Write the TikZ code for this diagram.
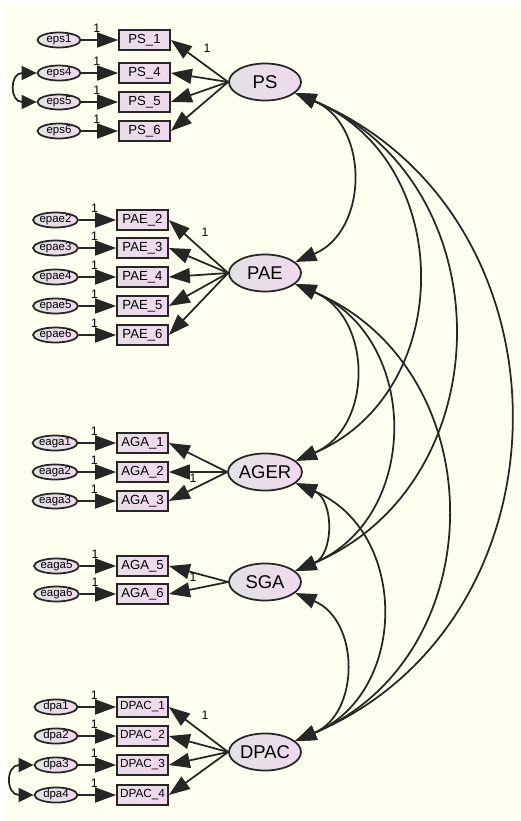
\documentclass[tikz,border=0pt]{standalone}
\usepackage{fontspec}
\setmainfont{Liberation Sans}
\usepackage{tikz}
\usetikzlibrary{shapes.geometric, arrows.meta}
\usepackage{xcolor}
\definecolor{fundo}{HTML}{FFFFF0}
\definecolor{rosa}{HTML}{F0D8EE}
\definecolor{cinza}{HTML}{E2E2E2}
\definecolor{borda}{HTML}{262626}

\begin{document}
\begin{tikzpicture}[
    latente/.style={ellipse, draw=borda, line width=1pt, left color=cinza, right color=rosa,
        minimum width=1.44cm, minimum height=0.74cm, inner sep=0pt, font=\fontsize{10.5}{12}\selectfont},
    obs/.style={rectangle, draw=borda, line width=1pt, left color=cinza!50!rosa, right color=rosa,
        minimum width=1.02cm, minimum height=0.4cm, inner sep=0pt, font=\fontsize{7.5}{9}\selectfont},
    obsd/.style={obs, font=\fontsize{6.7}{8}\selectfont},
    erro/.style={ellipse, draw=borda, line width=1pt, left color=cinza, right color=rosa,
        minimum width=0.86cm, minimum height=0.3cm, inner sep=0pt, font=\fontsize{6.5}{7}\selectfont},
    seta/.style={-{Triangle[length=4.2mm,width=3mm]}, line width=1pt, draw=borda},
    dupla/.style={{Triangle[length=4.2mm,width=3mm]}-{Triangle[length=4.2mm,width=3mm]}, line width=1pt, draw=borda},
    duplap/.style={{Triangle[length=3mm,width=2.8mm]}-{Triangle[length=3mm,width=2.8mm]}, line width=1pt, draw=borda},
    arco/.style={bend left=67, looseness=1.22},
    um/.style={font=\fontsize{7}{8}\selectfont, inner sep=1pt},
    umerro/.style={um, pos=0.42, above=3pt}
]
    % Fundo
    \useasboundingbox (0,0) rectangle (10.42,-16.42);
    \fill[fundo] (0.1,-0.1) rectangle (10.42,-16.42);
    % Variaveis latentes
    \node[latente] (PS) at (5.3,-1.64) {PS};
    \node[latente] (PAE) at (5.3,-5.46) {PAE};
    \node[latente] (AGER) at (5.3,-9.44) {AGER};
    \node[latente] (SGA) at (5.3,-11.64) {SGA};
    \node[latente] (DPAC) at (5.3,-15.04) {DPAC};
    % Indicadores de PS
    \node[obs] (PS1) at (2.89,-0.8) {PS\_1};
    \node[obs] (PS4) at (2.89,-1.46) {PS\_4};
    \node[obs] (PS5) at (2.89,-2.04) {PS\_5};
    \node[obs] (PS6) at (2.89,-2.62) {PS\_6};
    \node[erro] (eps1) at (1.18,-0.8) {eps1};
    \node[erro] (eps4) at (1.18,-1.46) {eps4};
    \node[erro] (eps5) at (1.18,-2.04) {eps5};
    \node[erro] (eps6) at (1.18,-2.62) {eps6};
    % Indicadores de PAE
    \node[obs] (PAE2) at (2.85,-4.4) {PAE\_2};
    \node[obs] (PAE3) at (2.85,-4.96) {PAE\_3};
    \node[obs] (PAE4) at (2.85,-5.54) {PAE\_4};
    \node[obs] (PAE5) at (2.85,-6.12) {PAE\_5};
    \node[obs] (PAE6) at (2.85,-6.7) {PAE\_6};
    \node[erro] (epae2) at (1.11,-4.4) {epae2};
    \node[erro] (epae3) at (1.11,-4.96) {epae3};
    \node[erro] (epae4) at (1.11,-5.54) {epae4};
    \node[erro] (epae5) at (1.11,-6.12) {epae5};
    \node[erro] (epae6) at (1.11,-6.7) {epae6};
    % Indicadores de AGER e SGA
    \node[obs] (AGA1) at (2.85,-8.86) {AGA\_1};
    \node[obs] (AGA2) at (2.85,-9.44) {AGA\_2};
    \node[obs] (AGA3) at (2.85,-10.02) {AGA\_3};
    \node[obs] (AGA5) at (2.85,-11.32) {AGA\_5};
    \node[obs] (AGA6) at (2.85,-11.88) {AGA\_6};
    \node[erro] (eaga1) at (1.1,-8.86) {eaga1};
    \node[erro] (eaga2) at (1.1,-9.44) {eaga2};
    \node[erro] (eaga3) at (1.1,-10.02) {eaga3};
    \node[erro] (eaga5) at (1.13,-11.32) {eaga5};
    \node[erro] (eaga6) at (1.13,-11.88) {eaga6};
    % Indicadores de DPAC
    \node[obsd] (DPAC1) at (2.85,-14.14) {DPAC\_1};
    \node[obsd] (DPAC2) at (2.85,-14.72) {DPAC\_2};
    \node[obsd] (DPAC3) at (2.85,-15.3) {DPAC\_3};
    \node[obsd] (DPAC4) at (2.85,-15.9) {DPAC\_4};
    \node[erro] (dpa1) at (1.12,-14.14) {dpa1};
    \node[erro] (dpa2) at (1.12,-14.72) {dpa2};
    \node[erro] (dpa3) at (1.12,-15.3) {dpa3};
    \node[erro] (dpa4) at (1.12,-15.9) {dpa4};
    % Erros -> indicadores
    \draw[seta] (eps1) -- node[umerro] (u1) {1} (PS1);
    \draw[seta] (eps4) -- node[umerro] (u4) {1} (PS4);
    \draw[seta] (eps5) -- node[umerro] (u5) {1} (PS5);
    \draw[seta] (eps6) -- node[umerro] (u6) {1} (PS6);
    \draw[seta] (epae2) -- node[umerro] (v2) {1} (PAE2);
    \draw[seta] (epae3) -- node[umerro] (v3) {1} (PAE3);
    \draw[seta] (epae4) -- node[umerro] (v4) {1} (PAE4);
    \draw[seta] (epae5) -- node[umerro] (v5) {1} (PAE5);
    \draw[seta] (epae6) -- node[umerro] (v6) {1} (PAE6);
    \draw[seta] (eaga1) -- node[umerro] (w1) {1} (AGA1);
    \draw[seta] (eaga2) -- node[umerro] (w2) {1} (AGA2);
    \draw[seta] (eaga3) -- node[umerro] (w3) {1} (AGA3);
    \draw[seta] (eaga5) -- node[umerro] (w5) {1} (AGA5);
    \draw[seta] (eaga6) -- node[umerro] (w6) {1} (AGA6);
    \draw[seta] (dpa1) -- node[umerro] (z1) {1} (DPAC1);
    \draw[seta] (dpa2) -- node[umerro] (z2) {1} (DPAC2);
    \draw[seta] (dpa3) -- node[umerro] (z3) {1} (DPAC3);
    \draw[seta] (dpa4) -- node[umerro] (z4) {1} (DPAC4);
    % Cargas fatoriais
    \draw[seta] (PS.west) -- (PS1.east);
    \draw[seta] (PS.west) -- (PS4.east);
    \draw[seta] (PS.west) -- (PS5.east);
    \draw[seta] (PS.west) -- (PS6.east);
    \draw[seta] (PAE.west) -- (PAE2.east);
    \draw[seta] (PAE.west) -- (PAE3.east);
    \draw[seta] (PAE.west) -- (PAE4.east);
    \draw[seta] (PAE.west) -- (PAE5.east);
    \draw[seta] (PAE.west) -- (PAE6.east);
    \draw[seta] (AGER.west) -- (AGA1.east);
    \draw[seta] (AGER.west) -- (AGA2.east);
    \draw[seta] (AGER.west) -- (AGA3.east);
    \draw[seta] (SGA.west) -- (AGA5.east);
    \draw[seta] (SGA.west) -- (AGA6.east);
    \draw[seta] (DPAC.west) -- (DPAC1.east);
    \draw[seta] (DPAC.west) -- (DPAC2.east);
    \draw[seta] (DPAC.west) -- (DPAC3.east);
    \draw[seta] (DPAC.west) -- (DPAC4.east);
    \node[um] (cPS) at (4.14,-0.96) {1};
    \node[um] (cPAE) at (4.1,-4.64) {1};
    \node[um] (cAGER) at (3.86,-9.56) {1};
    \node[um] (cSGA) at (3.86,-11.54) {1};
    \node[um] (cDPAC) at (4.1,-14.3) {1};
    % Covariancias entre erros
    \draw[duplap] (eps4.west) to[out=180, in=180, looseness=2.4] (eps5.west);
    \draw[duplap] (dpa3.west) to[out=180, in=180, looseness=2.4] (dpa4.west);
    % Covariancias entre latentes
    \draw[dupla] (PS.-20) to[arco] (PAE.20);
    \draw[dupla] (PS.-20) to[arco] (AGER.20);
    \draw[dupla] (PS.-20) to[arco] (SGA.20);
    \draw[dupla] (PS.-20) to[arco] (DPAC.20);
    \draw[dupla] (PAE.-20) to[arco] (AGER.20);
    \draw[dupla] (PAE.-20) to[arco] (SGA.20);
    \draw[dupla] (PAE.-20) to[arco] (DPAC.20);
    \draw[dupla] (AGER.-20) to[arco] (SGA.20);
    \draw[dupla] (AGER.-20) to[arco] (DPAC.20);
    \draw[dupla] (SGA.-20) to[arco] (DPAC.20);
\end{tikzpicture}
\end{document}
